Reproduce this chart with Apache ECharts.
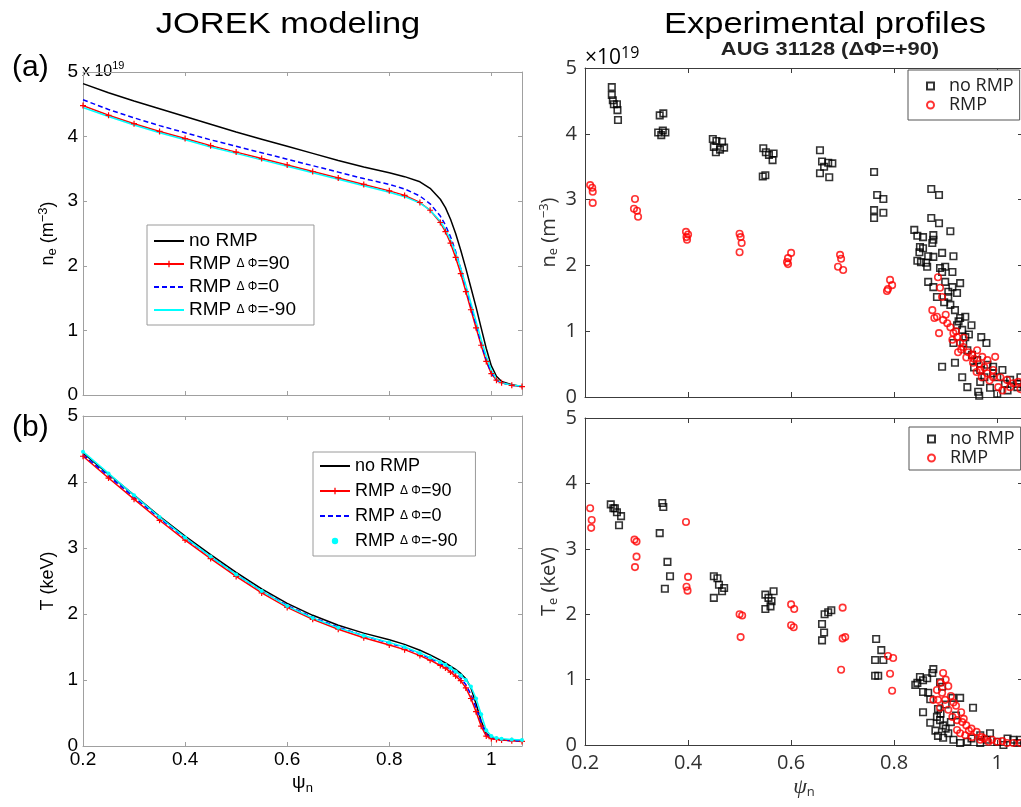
<!DOCTYPE html>
<html><head><meta charset="utf-8">
<script src="https://cdn.jsdelivr.net/npm/echarts@6/dist/echarts.min.js"></script>
<style>html,body{margin:0;padding:0;background:#fff}#c{width:1021px;height:807px}</style>
</head><body><div id="c"></div>
<script>
// ---------- data ----------
const psiModel = [0.2,0.25,0.3,0.35,0.4,0.45,0.5,0.55,0.6,0.65,0.7,0.75,0.8,0.83,0.86,0.88,0.9,0.91,0.92,0.93,0.94,0.95,0.96,0.97,0.98,0.99,1.0,1.01,1.02,1.04,1.06];
// (a) density, units 1e19 m^-3
const neNoRmp  = [4.82,4.68,4.55,4.43,4.31,4.19,4.07,3.96,3.85,3.74,3.63,3.53,3.44,3.38,3.30,3.20,3.03,2.90,2.72,2.50,2.24,1.96,1.66,1.36,1.04,0.72,0.45,0.29,0.21,0.16,0.13];
const neRmp90  = [4.48,4.33,4.20,4.08,3.97,3.86,3.76,3.66,3.56,3.46,3.36,3.26,3.16,3.09,2.98,2.86,2.67,2.53,2.35,2.13,1.88,1.60,1.32,1.04,0.77,0.52,0.33,0.23,0.19,0.15,0.13];
const neRmp0   = [4.57,4.42,4.29,4.17,4.06,3.95,3.85,3.75,3.65,3.55,3.45,3.35,3.26,3.19,3.08,2.96,2.77,2.63,2.45,2.22,1.96,1.67,1.38,1.09,0.80,0.54,0.34,0.23,0.19,0.15,0.13];
const neRmpM90 = [4.45,4.31,4.18,4.06,3.95,3.84,3.74,3.64,3.54,3.44,3.34,3.24,3.14,3.07,2.97,2.86,2.69,2.56,2.40,2.20,1.96,1.70,1.42,1.14,0.86,0.60,0.38,0.25,0.19,0.15,0.14];
// (b) temperature, keV
const teNoRmp  = [4.44,4.12,3.80,3.48,3.18,2.90,2.63,2.38,2.16,1.98,1.83,1.71,1.61,1.54,1.45,1.38,1.30,1.26,1.21,1.16,1.10,1.02,0.88,0.64,0.38,0.19,0.13,0.11,0.10,0.09,0.08];
const teRmp90  = [4.39,4.06,3.74,3.42,3.12,2.84,2.57,2.32,2.10,1.92,1.77,1.64,1.53,1.46,1.37,1.30,1.22,1.18,1.12,1.06,0.99,0.88,0.72,0.52,0.30,0.15,0.11,0.10,0.09,0.08,0.07];
const teRmp0   = [4.41,4.09,3.77,3.45,3.15,2.87,2.60,2.35,2.13,1.95,1.80,1.67,1.56,1.49,1.40,1.33,1.25,1.21,1.16,1.10,1.03,0.93,0.78,0.58,0.36,0.18,0.12,0.10,0.09,0.08,0.08];
const teRmpM90 = [4.46,4.13,3.80,3.47,3.16,2.87,2.60,2.35,2.12,1.94,1.79,1.67,1.57,1.50,1.41,1.34,1.27,1.23,1.18,1.13,1.07,1.00,0.90,0.72,0.48,0.24,0.15,0.12,0.11,0.10,0.09];
// experimental profiles [psi_n, value]
const neNoRmpExp = [[0.252,4.71],[0.252,4.59],[0.254,4.51],[0.256,4.45],[0.262,4.45],[0.263,4.36],[0.264,4.21],
[0.345,4.28],[0.352,4.31],[0.342,4.02],[0.348,3.98],[0.356,4.02],[0.351,4.05],
[0.448,3.92],[0.455,3.89],[0.45,3.8],[0.454,3.72],[0.462,3.76],[0.47,3.79],[0.466,3.88],
[0.546,3.78],[0.551,3.72],[0.557,3.68],[0.545,3.35],[0.55,3.37],[0.566,3.7],[0.564,3.6],
[0.656,3.75],[0.66,3.58],[0.664,3.5],[0.672,3.56],[0.656,3.40],[0.674,3.34],[0.68,3.55],
[0.761,3.42],[0.767,3.07],[0.779,3.01],[0.761,2.84],[0.779,2.80],[0.761,2.72],
[0.872,3.16],[0.887,3.07],[0.872,2.72],[0.887,2.64],[0.909,2.52],
[0.839,2.54],[0.845,2.45],[0.856,2.43],[0.876,2.46],[0.876,2.39],[0.874,2.34],
[0.850,2.28],[0.856,2.26],[0.849,2.2],[0.866,2.14],[0.876,2.13],[0.893,2.19],[0.915,2.14],
[0.845,2.07],[0.852,2.05],[0.862,2.04],[0.864,1.98],[0.889,1.96],[0.899,1.98],[0.913,1.90],[0.893,1.90],
[0.866,1.75],[0.876,1.67],[0.899,1.75],[0.913,1.67],[0.928,1.73],[0.905,1.60],
[0.883,1.52],[0.905,1.52],[0.922,1.58],[0.897,1.44],[0.909,1.40],[0.918,1.32],
[0.928,1.20],[0.938,1.22],[0.922,1.09],[0.950,1.09],[0.932,1.02],
[0.938,0.91],[0.969,0.91],[0.979,0.82],[0.915,0.82],[0.918,0.52],[0.893,0.46],[0.932,0.30],
[0.942,0.15],[0.963,0.08],[0.965,0.02],[0.967,0.23],[0.986,0.14],[1.0,0.30],[0.992,0.46],[1.01,0.41],[1.025,0.26],[1.039,0.15],
[0.951,0.64],[0.961,0.56],[0.981,0.49],[0.992,0.36],[0.967,0.41],[0.942,0.71],[0.934,0.82],
[1.0,0.05],[1.02,0.1],[1.04,0.2],[1.045,0.3],[1.015,0.2],[0.975,0.3],[0.955,0.45],[0.945,0.95],[0.925,1.15]];
const neRmpExp = [[0.21,3.22],[0.214,3.18],[0.215,3.12],[0.215,2.95],
[0.297,3.01],[0.295,2.86],[0.301,2.83],[0.303,2.74],
[0.396,2.51],[0.4,2.47],[0.397,2.43],[0.398,2.39],
[0.5,2.48],[0.502,2.43],[0.504,2.34],[0.5,2.2],
[0.6,2.19],[0.594,2.11],[0.592,2.05],[0.594,2.02],
[0.695,2.16],[0.697,2.10],[0.691,1.98],[0.701,1.93],
[0.792,1.78],[0.796,1.70],[0.788,1.64],[0.786,1.61],
[0.885,1.82],[0.889,1.66],[0.893,1.52],
[0.874,1.32],[0.883,1.22],[0.878,1.20],[0.895,1.17],[0.903,1.12],[0.887,0.97],[0.909,1.06],[0.915,0.97],[0.922,0.91],
[0.913,0.87],[0.928,0.82],[0.924,0.68],[0.934,0.76],[0.944,0.68],[0.951,0.64],[0.961,0.71],[0.971,0.61],[0.981,0.56],[0.996,0.61],
[0.953,0.52],[0.967,0.41],[0.981,0.36],[0.992,0.30],[1.006,0.30],[1.019,0.26],[1.031,0.21],[1.041,0.23],[1.025,0.15],[1.002,0.15],[0.992,0.41],
[0.93,0.72],[0.94,0.6],[0.955,0.58],[0.965,0.5],[0.975,0.45],[0.985,0.25],[0.97,0.3],[1.01,0.1],[1.045,0.12],[0.92,1.0],[0.9,1.25],[0.935,0.9],[0.96,0.38]];
const teNoRmpExp = [[0.25,3.68],[0.255,3.62],[0.262,3.56],[0.266,3.36],[0.258,3.62],[0.27,3.5],
[0.35,3.7],[0.352,3.64],[0.345,3.24],[0.36,2.8],[0.365,2.58],[0.355,2.39],
[0.45,2.58],[0.457,2.55],[0.46,2.45],[0.466,2.35],[0.45,2.25],[0.47,2.4],
[0.55,2.3],[0.556,2.25],[0.562,2.2],[0.566,2.35],[0.55,2.08],[0.56,2.12],
[0.665,2.0],[0.672,2.03],[0.66,1.85],[0.664,1.72],[0.66,1.6],[0.678,2.06],
[0.765,1.62],[0.775,1.45],[0.763,1.30],[0.779,1.30],[0.763,1.06],[0.769,1.06],
[0.876,1.16],[0.874,1.10],[0.850,1.04],[0.856,0.99],[0.864,1.02],[0.841,0.92],[0.845,0.95],[0.856,0.81],[0.866,0.80],[0.889,0.96],[0.893,0.89],[0.928,0.72],[0.953,0.57],[0.856,0.50],[0.870,0.34],[0.883,0.43],[0.889,0.38],[0.885,0.14],[0.895,0.11],[0.905,0.18],[0.915,0.08],[0.928,0.03],[0.967,0.15],[0.986,0.18],[0.942,0.05],[0.967,0.03],[1.0,0.05],[1.031,0.08],[1.039,0.03],[1.012,0.0],
[0.913,0.72],[0.885,0.55],[0.89,0.48],[0.895,0.3],[0.9,0.25],[0.88,0.22],[0.91,0.35],[0.87,0.7],[0.9,0.62],[0.92,0.45],[0.95,0.1],[0.98,0.08],[1.02,0.1],[1.045,0.08]];
const teRmpExp = [[0.21,3.62],[0.213,3.44],[0.212,3.32],
[0.296,3.14],[0.3,3.11],[0.3,2.88],[0.297,2.72],
[0.396,3.41],[0.4,2.57],[0.397,2.42],[0.399,2.36],
[0.5,2.0],[0.505,1.98],[0.502,1.65],
[0.6,2.15],[0.606,2.08],[0.6,1.83],[0.605,1.8],
[0.7,2.1],[0.705,1.65],[0.7,1.63],[0.697,1.15],
[0.788,1.36],[0.798,1.33],[0.792,1.09],[0.796,0.83],
[0.895,1.10],[0.883,0.84],[0.893,0.80],[0.885,0.69],[0.876,0.69],[0.899,0.69],[0.889,0.57],[0.905,0.54],[0.913,0.43],[0.922,0.38],[0.932,0.35],[0.922,0.23],[0.928,0.18],[0.938,0.15],[0.951,0.12],[0.967,0.08],[0.983,0.05],[1.0,0.05],[1.019,0.03],[1.031,0.03],[1.045,0.03],
[0.9,1.0],[0.905,0.9],[0.91,0.75],[0.92,0.6],[0.93,0.5],[0.94,0.3],[0.95,0.25],[0.96,0.2],[0.97,0.12],[0.89,0.95],[0.915,0.65],[0.935,0.4],[0.945,0.22],[0.99,0.08],[1.01,0.06],[0.975,0.1]];

const xTickValues = [0.2,0.4,0.6,0.8,1];
const xTickLabels = ['0.2','0.4','0.6','0.8','1'];
const yTickValues = [0,1,2,3,4,5];

// series display names
const NAMES = {
  a0:'no RMP (a)', a1:'RMP ΔΦ=90 (a)', a2:'RMP ΔΦ=0 (a)', a3:'RMP ΔΦ=-90 (a)',
  b0:'no RMP (b)', b1:'RMP ΔΦ=90 (b)', b2:'RMP ΔΦ=0 (b)', b3:'RMP ΔΦ=-90 (b)'
};
const LEGEND_TEXT = {
  'no RMP':'no RMP', 'RMP ΔΦ=90':'RMP {d|Δ Φ}=90', 'RMP ΔΦ=0':'RMP {d|Δ Φ}=0', 'RMP ΔΦ=-90':'RMP {d|Δ Φ}=-90'
};

// ---------- helpers ----------
const zip = (xs, ys) => xs.map((x, i) => [x, ys[i]]);
function fmtX(v){
  for (let i = 0; i < xTickValues.length; i++) if (Math.abs(v - xTickValues[i]) < 1e-6) return xTickLabels[i];
  return '';
}
function fmtY(v){ return yTickValues.indexOf(Math.round(v)) >= 0 && Math.abs(v-Math.round(v))<1e-6 ? String(Math.round(v)) : ''; }

const SL = {line:'#a0a0a0', label:'#000', font:'Liberation Sans', size:19, tick:4, xm:4, ym:5};
const SR = {line:'#3c3c3c', label:'#303030', font:'Open Sans', size:20, tick:5, xm:8, ym:8};

const grids = [
  {left:83, top:72, width:439, height:323},
  {left:83, top:416, width:439, height:330},
  {left:585, top:68, width:438, height:329},
  {left:585, top:418, width:438, height:327}
];
const xMax = [1.06, 1.06, 1.05, 1.05];
const styles = [SL, SL, SR, SR];
const showXLabels = [false, true, false, true];

const subRich = (fs, ff, color) => ({
  sub:{fontSize:fs, fontFamily:ff, color:color, lineHeight:10, verticalAlign:'bottom'},
  sup:{fontSize:fs, fontFamily:ff, color:color, lineHeight:10, verticalAlign:'top'},
  i:{fontSize:22, fontFamily:'Liberation Serif', fontStyle:'italic', color:color, lineHeight:24},
  p:{fontSize:19, fontFamily:ff, color:color, lineHeight:24}
});

const yNames = ['n{sub|e} (m{sup|−3})', 'T (keV)', 'n{sub|e} (m{sup|−3})', 'T{sub|e} (keV)'];
const yNameGap = [24, 24, 25, 25];
const yNameSize = [18, 18, 20, 20];
const xNames = [null, '{p|ψ}{sub|n}', null, '{i|ψ}{sub|n}'];
const xNameGap = [0, 25, 0, 30];

const xAxis = [], yAxis = [];
grids.forEach((g, gi) => {
  const st = styles[gi];
  const common = {type:'value', gridIndex:gi, min:0.2, max:xMax[gi], interval:0.2,
    axisLine:{show:true, onZero:false, lineStyle:{color:st.line, width:1}},
    axisTick:{show:true, inside:true, length:st.tick, lineStyle:{color:st.line, width:1}},
    splitLine:{show:false}};
  xAxis.push(Object.assign({}, common, {position:'bottom',
    axisLabel:{show:showXLabels[gi], color:st.label, fontFamily:st.font, fontSize:st.size, margin:st.xm, formatter:fmtX, showMaxLabel:true},
    name: xNames[gi] || '', nameLocation:'middle', nameGap:xNameGap[gi],
    nameTextStyle:{color:st.label, fontFamily:st.font, fontSize:19, lineHeight:24, rich:subRich(13, st.font, st.label)}}));
  xAxis.push(Object.assign({}, common, {position:'top', axisLabel:{show:false}}));
  const ycommon = {type:'value', gridIndex:gi, min:0, max:5, interval:1,
    axisLine:{show:true, onZero:false, lineStyle:{color:st.line, width:1}},
    axisTick:{show:true, inside:true, length:st.tick, lineStyle:{color:st.line, width:1}},
    splitLine:{show:false}};
  yAxis.push(Object.assign({}, ycommon, {position:'left',
    axisLabel:{show:true, color:st.label, fontFamily:st.font, fontSize:st.size, margin:st.ym, formatter:fmtY},
    name: yNames[gi], nameLocation:'middle', nameRotate:90, nameGap:yNameGap[gi],
    nameTextStyle:{color:st.label, fontFamily:st.font, fontSize:yNameSize[gi], lineHeight:22, rich:subRich(13, st.font, st.label)}}));
  yAxis.push(Object.assign({}, ycommon, {position:'right', axisLabel:{show:false}}));
});

const PLUS = 'path://M4,0H6V4H10V6H6V10H4V6H0V4H4Z';
function lineSeries(name, gi, ys, color, opts){
  return Object.assign({
    type:'line', name:name, xAxisIndex:2*gi, yAxisIndex:2*gi, data:zip(psiModel, ys),
    symbol:'none', smooth:false, animation:false,
    lineStyle:{color:color, width:1.5}, itemStyle:{color:color}
  }, opts || {});
}
function scatterSeries(name, gi, data, color, symbol){
  return {type:'scatter', name:name, xAxisIndex:2*gi, yAxisIndex:2*gi, data:data,
    symbol:symbol, symbolSize:6.5, animation:false,
    itemStyle:{color:'rgba(255,255,255,0)', borderColor:color, borderWidth:1.6}};
}

const series = [
  lineSeries(NAMES.a0, 0, neNoRmp, '#000000'),
  lineSeries(NAMES.a1, 0, neRmp90, '#ff0000', {symbol:PLUS, symbolSize:6, showSymbol:true}),
  lineSeries(NAMES.a2, 0, neRmp0, '#0000ff', {lineStyle:{color:'#0000ff', width:1.5, type:[5,3]}}),
  lineSeries(NAMES.a3, 0, neRmpM90, '#00ffff'),
  lineSeries(NAMES.b0, 1, teNoRmp, '#000000'),
  lineSeries(NAMES.b1, 1, teRmp90, '#ff0000', {symbol:PLUS, symbolSize:6, showSymbol:true}),
  lineSeries(NAMES.b2, 1, teRmp0, '#0000ff', {lineStyle:{color:'#0000ff', width:1.5, type:[5,3]}}),
  lineSeries(NAMES.b3, 1, teRmpM90, '#00ffff', {symbol:'circle', symbolSize:4, showSymbol:true}),
  scatterSeries('no RMP', 2, neNoRmpExp, '#000000', 'rect'),
  scatterSeries('RMP', 2, neRmpExp, '#ff0000', 'circle'),
  scatterSeries('no RMP', 3, teNoRmpExp, '#000000', 'rect'),
  scatterSeries('RMP', 3, teRmpExp, '#ff0000', 'circle')
];

const legendFmt = n => LEGEND_TEXT[n.replace(/ \([ab]\)$/, '')] || n;
const hide = {opacity:0};
const leftLegend = (ids, left, top, pad, gap, fs) => ({
  data: ids, orient:'vertical', left:left, top:top, padding:pad, itemGap:gap,
  itemWidth:30, itemHeight:8, borderColor:'#9a9a9a', borderWidth:1, borderRadius:0,
  backgroundColor:'#ffffff', selectedMode:false, formatter:legendFmt,
  textStyle:{fontFamily:'Liberation Sans', fontSize:fs, color:'#000', lineHeight:20,
    rich:{d:{fontFamily:'Liberation Sans', fontSize:12, color:'#000', lineHeight:20}}}
});
const rightLegend = (left, top, pad) => ({
  data:['no RMP','RMP'], orient:'vertical', left:left, top:top, padding:pad, itemGap:1,
  itemWidth:7, itemHeight:7, borderColor:'#555', borderWidth:1, borderRadius:0,
  backgroundColor:'#ffffff', selectedMode:false, formatter: n => '{t|' + n + '}',
  textStyle:{rich:{t:{fontFamily:'Open Sans', fontSize:18, color:'#222', lineHeight:19, padding:[0,0,0,10]}}}
});

const option = {
  animation:false,
  backgroundColor:'#ffffff',
  grid: grids.map(g => Object.assign({containLabel:false, outerBoundsMode:'none'}, g)),
  xAxis, yAxis, series,
  legend: [
    leftLegend([{name:NAMES.a0, itemStyle:hide}, {name:NAMES.a1}, {name:NAMES.a2, itemStyle:hide}, {name:NAMES.a3, itemStyle:hide}], 147, 225, [6,18,5,6], 3, 19),
    leftLegend([{name:NAMES.b0, itemStyle:hide}, {name:NAMES.b1}, {name:NAMES.b2, itemStyle:hide}, {name:NAMES.b3, lineStyle:{color:'rgba(0,0,0,0)'}}], 313, 452, [4,18,5,6], 5, 18),
    rightLegend(908, 70, [7,6,6,18]),
    rightLegend(909, 427, [3,6,3,18])
  ],
  graphic: [
    {type:'text', x:288, y:25, scaleX:1.15, style:{text:'JOREK modeling', fontSize:30, fontFamily:'Liberation Sans', fill:'#000', align:'center', verticalAlign:'middle'}},
    {type:'text', x:825, y:25, scaleX:1.15, style:{text:'Experimental profiles', fontSize:30, fontFamily:'Liberation Sans', fill:'#000', align:'center', verticalAlign:'middle'}},
    {type:'text', x:830, y:50, scaleX:1.15, style:{text:'AUG 31128 (ΔΦ=+90)', fontSize:19, fontWeight:'bold', fontFamily:'Liberation Sans', fill:'#222', align:'center', verticalAlign:'middle'}},
    {type:'text', x:12, y:68, style:{text:'(a)', fontSize:30, fontFamily:'Liberation Sans', fill:'#000', verticalAlign:'middle'}},
    {type:'text', x:12, y:428, style:{text:'(b)', fontSize:30, fontFamily:'Liberation Sans', fill:'#000', verticalAlign:'middle'}},
    {type:'text', x:82, y:84, style:{text:'{b|x 10}{s|19}', verticalAlign:'bottom',
      rich:{b:{fontSize:16, fontFamily:'Liberation Sans', color:'#000', lineHeight:24}, s:{fontSize:11, fontFamily:'Liberation Sans', color:'#000', lineHeight:10, verticalAlign:'top'}}}},
    {type:'text', x:585, y:71, style:{text:'{b|×10}{s|19}', verticalAlign:'bottom',
      rich:{b:{fontSize:21, fontFamily:'Open Sans', color:'#404040', lineHeight:26}, s:{fontSize:16, fontFamily:'Open Sans', color:'#404040', lineHeight:16, verticalAlign:'top'}}}}
  ]
};

const chart = echarts.init(document.getElementById('c'), null, {renderer:'canvas', width:1021, height:807});
chart.setOption(option);
</script>
</body></html>
